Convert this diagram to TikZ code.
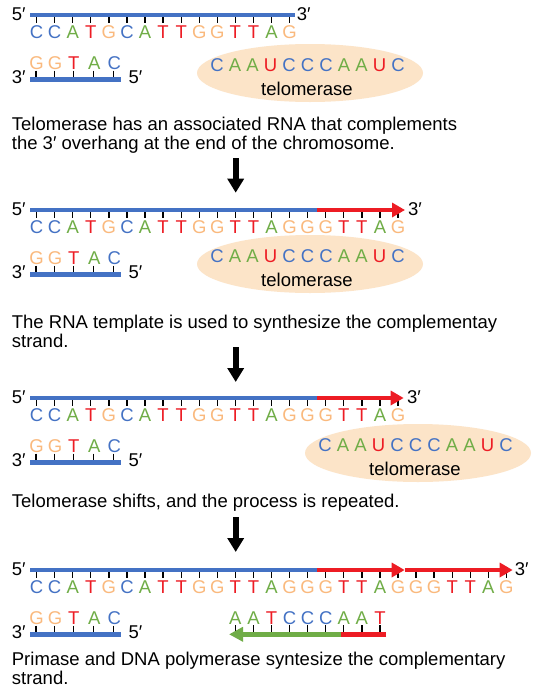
\documentclass[tikz,border=0pt]{standalone}
\usepackage{fontspec}
\setmainfont{Liberation Sans}
\usetikzlibrary{arrows.meta}
\definecolor{cC}{RGB}{68,114,196}
\definecolor{cA}{RGB}{112,173,71}
\definecolor{cT}{RGB}{237,28,36}
\definecolor{cU}{RGB}{237,28,36}
\definecolor{cG}{RGB}{250,185,125}
\definecolor{dnablue}{RGB}{68,114,196}
\definecolor{dnared}{RGB}{237,28,36}
\definecolor{dnagreen}{RGB}{112,173,71}
\definecolor{telofill}{RGB}{252,228,200}
\newcommand\fsz{\fontsize{18.5}{18.3}\selectfont}
% top strand: #1 y offset, #2 blue end, #3 letters
\newcommand\topstrand[3]{%
  \foreach \l [count=\i from 0] in {#3} {
    \draw[tickmark] (36.6+18.07*\i, #1+15) -- (36.6+18.07*\i, #1+23.3);
    \node[seqletter, text=c\l] at (36.6+18.07*\i, #1+38) {\l};
  }
  \draw[strandbar,dnablue] (30,#1+15) -- (#2,#1+15);
  \node[lbl] at (11.7,#1+20) {5′};
}
% lower strand: #1 y offset
\newcommand\lowstrand[1]{%
  \foreach \x/\l in {36.5/G,55/G,73.8/T,94.3/A,114.3/C} {
    \draw[tickmark] (\x-0.6, #1+70.5) -- (\x-0.6, #1+79.3);
    \node[seqletter, text=c\l] at (\x, #1+69.3) {\l};
  }
  \draw[strandbar,dnablue,line width=5pt] (30,#1+79.3) -- (120.7,#1+79.3);
  \node[lbl] at (11.7,#1+83.3) {3′};
  \node[lbl] at (128.3,#1+83.3) {5′};
}
% telomerase: #1 x offset, #2 y offset
\newcommand\telo[2]{%
  \fill[telofill] (310+#1,73+#2) ellipse [x radius=113, y radius=29];
  \node[seqletter] at (307.5+#1,71.5+#2) {\textcolor{cC}{C} \textcolor{cA}{A} \textcolor{cA}{A} \textcolor{cU}{U} \textcolor{cC}{C} \textcolor{cC}{C} \textcolor{cC}{C} \textcolor{cA}{A} \textcolor{cA}{A} \textcolor{cU}{U} \textcolor{cC}{C}};
  \node[seqletter] at (307+#1,95+#2) {telomerase};
}
\begin{document}
\begin{tikzpicture}[x=1pt,y=-1pt,
  strandbar/.style={line width=4.5pt},
  tickmark/.style={line width=1.3pt, black},
  seqletter/.style={inner sep=0pt, anchor=base, font=\fsz},
  lbl/.style={inner sep=0pt, anchor=base west, font=\fsz},
  captext/.style={inner sep=0pt, anchor=base west, font=\fsz},
  bigarrow/.style={line width=6pt, -{Triangle[length=14pt,width=16pt]}},
  redarrow/.style={strandbar, dnared, -{Triangle[length=13pt,width=14pt]}},
  greenarrow/.style={line width=5pt, dnagreen, -{Triangle[length=14pt,width=14pt]}},
]
\useasboundingbox (0,0) rectangle (544,694);
\fill[white] (0,0) rectangle (544,694);

% ---------- panel 1 ----------
\topstrand{0}{295}{C,C,A,T,G,C,A,T,T,G,G,T,T,A,G}
\node[lbl] (p1three) at (296.7,20) {3′};
\lowstrand{0}
\telo{0}{0}
\node[captext] (cap1a) at (11.7,130.7) {Telomerase has an associated RNA that complements};
\node[captext] (cap1b) at (11.7,149) {the 3′ overhang at the end of the chromosome.};
\coordinate (a1s) at (235.7,158);
\coordinate (a1e) at (235.7,192.7);
\draw[bigarrow] (a1s) -- (a1e);

% ---------- panel 2 ----------
\topstrand{195}{317}{C,C,A,T,G,C,A,T,T,G,G,T,T,A,G,G,G,T,T,A,G}
\coordinate (r2s) at (317,210);
\coordinate (r2e) at (405,210);
\draw[redarrow] (r2s) -- (r2e);
\node[lbl] (p2three) at (408,215) {3′};
\lowstrand{195}
\telo{0}{191}
\node[captext] (cap2a) at (11.7,328.5) {The RNA template is used to synthesize the complementay};
\node[captext] (cap2b) at (11.7,347) {strand.};
\coordinate (a2s) at (235.7,347);
\coordinate (a2e) at (235.7,382);
\draw[bigarrow] (a2s) -- (a2e);

% ---------- panel 3 ----------
\topstrand{383}{317}{C,C,A,T,G,C,A,T,T,G,G,T,T,A,G,G,G,T,T,A,G}
\coordinate (r3s) at (317,398);
\coordinate (r3e) at (403.7,398);
\draw[redarrow] (r3s) -- (r3e);
\node[lbl] (p3three) at (407,403) {3′};
\lowstrand{383}
\telo{108}{380}
\node[captext] (cap3) at (11.7,507) {Telomerase shifts, and the process is repeated.};
\coordinate (a3s) at (235.7,517);
\coordinate (a3e) at (235.7,552);
\draw[bigarrow] (a3s) -- (a3e);

% ---------- panel 4 ----------
\topstrand{555}{317}{C,C,A,T,G,C,A,T,T,G,G,T,T,A,G,G,G,T,T,A,G,G,G,T,T,A,G}
\coordinate (r4s) at (317,570);
\coordinate (r4m) at (404.7,570);
\coordinate (r4e) at (512.7,570);
\draw[redarrow] (r4s) -- (r4m);
\draw[redarrow] (r4m) -- (r4e);
\node[lbl] (p4three) at (514.7,575) {3′};
\lowstrand{555}
\foreach \l [count=\i from 11] in {A,A,T,C,C,C,A,A,T} {
  \draw[tickmark] (36.6+18.07*\i, 625) -- (36.6+18.07*\i, 634.3);
  \node[seqletter, text=c\l] at (36.6+18.07*\i, 624.3) {\l};
}
\coordinate (g4r) at (386,634.3);
\coordinate (g4m) at (341,634.3);
\coordinate (g4e) at (229,634.3);
\draw[line width=5pt, dnared] (g4r) -- (g4m);
\draw[greenarrow] (g4m) -- (g4e);
\node[captext] (cap4a) at (11.7,665) {Primase and DNA polymerase syntesize the complementary};
\node[captext] (cap4b) at (11.7,684.5) {strand.};
\end{tikzpicture}
\end{document}
